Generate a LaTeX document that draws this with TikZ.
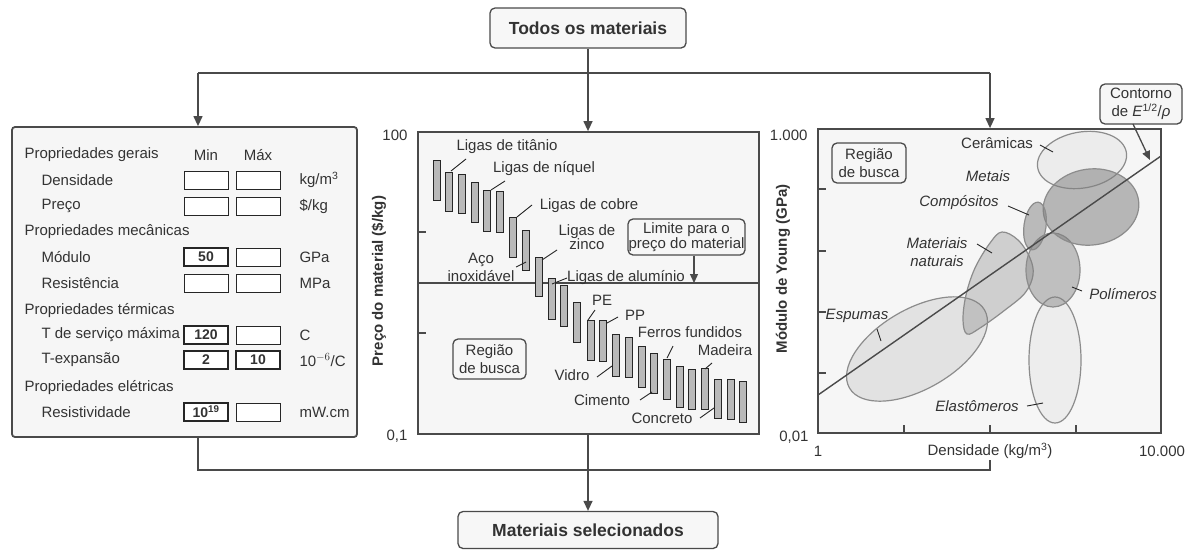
\documentclass[tikz,border=0pt]{standalone}
\usepackage{fontspec}
\setmainfont{Liberation Sans}
\usetikzlibrary{arrows.meta}
\definecolor{ink}{HTML}{333333}
\definecolor{frame}{HTML}{4A4A4A}
\definecolor{panelbg}{HTML}{F6F6F6}
\definecolor{blobline}{HTML}{8C8C8C}
\begin{document}
\begin{tikzpicture}[x=1pt,y=-1pt, font=\fontsize{15}{18}\selectfont, text=ink,
  conn/.style={draw=frame, line width=1.3pt},
  arr/.style={conn, -{Triangle[length=10pt,width=9pt]}},
  panel/.style={draw=frame, line width=1.8pt, fill=panelbg, rounded corners=3pt, inner sep=0pt},
  plotframe/.style={draw=frame, line width=1.8pt, fill=panelbg, inner sep=0pt},
  titlebox/.style={draw=frame, line width=1.3pt, fill=gray!6, rounded corners=5pt, inner sep=0pt, font=\fontsize{17.5}{20}\selectfont\bfseries},
  tagbox/.style={draw=frame, line width=1.3pt, fill=panelbg, rounded corners=5pt, align=center, inner sep=3pt},
  valbox/.style={draw=black!85, line width=1pt, minimum width=44pt, minimum height=18pt, inner sep=0pt, fill=white},
  valboxb/.style={valbox, line width=1.8pt, font=\fontsize{14}{16}\selectfont\bfseries},
  bar/.style={draw=black!85, line width=0.8pt, fill=gray!55},
  lead/.style={draw=black!85, line width=0.9pt},
  blob/.style={draw=blobline, line width=1.2pt, fill=gray},
  axlab/.style={font=\fontsize{15}{18}\selectfont\bfseries, rotate=90},
  tick/.style={draw=frame, line width=1.3pt},
  it/.style={font=\fontsize{15}{18}\selectfont\itshape}
]
\useasboundingbox (0,0) rectangle (1194,550);

% ---------- top and bottom nodes ----------
\node[titlebox, minimum width=196pt, minimum height=40pt] (T) at (588,28) {Todos os materiais};
\node[titlebox, minimum width=260pt, minimum height=37pt] (B) at (588,530) {Materiais selecionados};

% ---------- panels ----------
\node[panel, minimum width=345pt, minimum height=310pt] (LP) at (184.5,282) {};
\node[plotframe, minimum width=341pt, minimum height=302pt] (MP) at (588.5,283) {};
\node[plotframe, minimum width=343pt, minimum height=304pt] (RP) at (989.5,281) {};

% ---------- connectors ----------
\coordinate (jl) at (198,73);
\coordinate (jr) at (990,73);
\draw[arr] (T.south) -- (T.south |- MP.north);
\draw[conn] (jl) -- (jr);
\draw[arr] (jl) -- (jl |- LP.north);
\draw[arr] (jr) -- (jr |- RP.north);
\coordinate (bl) at (198,470);
\coordinate (br) at (990,470);
\coordinate (rs) at (990,460);
\draw[conn] (bl |- LP.south) -- (bl) -- (br) -- (rs);
\draw[arr] (MP.south -| T.south) -- (B.north -| T.south);

% ---------- left panel ----------
\node[anchor=west] (g1) at (21,155) {Propriedades gerais};
\node (mn) at (206,155) {Min};
\node (mx) at (258,155) {Máx};
\node[anchor=west] (r1) at (38,180) {Densidade};
\node[valbox] (r1a) at (206,180) {};
\node[valbox] (r1b) at (258,180) {};
\node[anchor=west] (r1u) at (296,180) {kg/m\textsuperscript{3}};
\node[anchor=west] (r2) at (38,206) {Preço};
\node[valbox] (r2a) at (206,206) {};
\node[valbox] (r2b) at (258,206) {};
\node[anchor=west] (r2u) at (296,206) {\$/kg};
\node[anchor=west] (g2) at (21,232) {Propriedades mecânicas};
\node[anchor=west] (r3) at (38,257) {Módulo};
\node[valboxb] (r3a) at (206,257) {50};
\node[valbox] (r3b) at (258,257) {};
\node[anchor=west] (r3u) at (296,257) {GPa};
\node[anchor=west] (r4) at (38,283) {Resistência};
\node[valbox] (r4a) at (206,283) {};
\node[valbox] (r4b) at (258,283) {};
\node[anchor=west] (r4u) at (296,283) {MPa};
\node[anchor=west] (g3) at (21,311) {Propriedades térmicas};
\node[anchor=west] (r5) at (38,335) {T de serviço máxima};
\node[valboxb] (r5a) at (206,335) {120};
\node[valbox] (r5b) at (258,335) {};
\node[anchor=west] (r5u) at (296,335) {C};
\node[anchor=west] (r6) at (38,360) {T-expansão};
\node[valboxb] (r6a) at (206,360) {2};
\node[valboxb] (r6b) at (258,360) {10};
\node[anchor=west] (r6u) at (296,360) {10$^{-6}$/C};
\node[anchor=west] (g4) at (21,388) {Propriedades elétricas};
\node[anchor=west] (r7) at (38,412) {Resistividade};
\node[valboxb] (r7a) at (206,412) {10\textsuperscript{19}};
\node[valbox] (r7b) at (258,412) {};
\node[anchor=west] (r7u) at (296,412) {mW.cm};

% ---------- middle chart ----------
\draw[draw=frame, line width=1.3pt] (MP.west |- 0,283) -- (MP.east |- 0,283);
\draw[tick] (418,232) -- (426,232);
\draw[tick] (418,333) -- (426,333);
\foreach \x/\a/\b in {433/160/200,445/172/211,458/174/213,471/182/222,483/190/231,496/191/232,
  509/217/257,522/230/270,535/257/296,548/278/319,560/285/326,573/302/342,587/320/360,
  599/320/361,612/334/376,625/337/377,638/346/387,650/353/393,663/359/399,676/366/407,
  688/369/409,701/368/409,714/379/418,727/379/419,739/381/422}
  \draw[bar] (\x,\a) rectangle ++(7,\b-\a);
\node[anchor=east] (y100) at (411,135) {100};
\node[anchor=east] (y01) at (411,436) {0,1};
\node[axlab] (ylab1) at (379,281) {Preço do material (\$/kg)};

\node (lti) at (507,147) {Ligas de titânio};
\draw[lead] (451,171) -- (466,159);
\node (lni) at (544,169) {Ligas de níquel};
\draw[lead] (491,190) -- (505,181);
\node (lcu) at (589,206) {Ligas de cobre};
\draw[lead] (517,217) -- (532,205);
\node[align=center, font=\fontsize{15}{14}\selectfont] (lzn) at (587,237) {Ligas de\\zinco};
\draw[lead] (542,260) -- (557,250);
\node[align=center, font=\fontsize{15}{18}\selectfont] (aco) at (481,267) {Aço\\inoxidável};
\draw[lead] (516,267) -- (526,262);
\node (lal) at (626,278) {Ligas de alumínio};
\draw[lead] (552,284) -- (567,278);
\node[tagbox, font=\fontsize{15}{15}\selectfont, minimum width=117pt, minimum height=36pt, inner sep=0pt] (lim) at (686.5,237) {Limite para o\\preço do material};
\draw[draw=frame, line width=1.3pt, -{Triangle[length=9pt,width=8pt]}] (lim.south -| 694,0) -- (694,283);
\node (pe) at (602,300) {PE};
\draw[lead] (588,320) -- (595,310);
\node (pp) at (635,315) {PP};
\draw[lead] (607,323) -- (618,317);
\node (ff) at (690,332) {Ferros fundidos};
\draw[lead] (667,358) -- (673,346);
\node (mad) at (725,350) {Madeira};
\draw[lead] (705,369) -- (712,363);
\node (vid) at (572,375) {Vidro};
\draw[lead] (597,377) -- (612,366);
\node (cim) at (602,400) {Cimento};
\draw[lead] (640,400) -- (652,392);
\node (con) at (662,418) {Concreto};
\draw[lead] (700,418) -- (714,408);
\node[tagbox, minimum width=73pt, minimum height=40pt, inner sep=0pt] (rb1) at (489.5,359) {Região\\de busca};

% ---------- right chart ----------
\draw[tick] (818,189) -- (826,189);
\draw[tick] (818,251) -- (826,251);
\draw[tick] (818,312) -- (826,312);
\draw[tick] (818,373) -- (826,373);
\draw[tick] (904,433) -- (904,425);
\draw[tick] (990,433) -- (990,425);
\draw[tick] (1076,433) -- (1076,425);
\node[anchor=east] (y1000) at (811,135) {1.000};
\node[anchor=east] (y001) at (812,437) {0,01};
\node (x1) at (818,451) {1};
\node (x10000) at (1162,451) {10.000};
\node (xlab) at (990,451) {Densidade (kg/m\textsuperscript{3})};
\node[axlab] (ylab2) at (783,269) {Módulo de Young (GPa)};

\draw[blob, fill opacity=0.17, rotate around={30:(917,349)}] (917,349) ellipse [x radius=78pt, y radius=40pt];
\draw[blob, fill opacity=0.07] (1055,360) ellipse [x radius=26pt, y radius=63pt];
\draw[blob, fill opacity=0.33] plot[smooth cycle, tension=0.6] coordinates {(1002,232) (1018,240) (1030,258) (1033,275) (1025,293) (1005,310) (980,328) (967,334) (963,320) (966,295) (975,268) (990,243)};
\draw[blob, fill opacity=0.46] (1053,270) ellipse [x radius=27pt, y radius=37pt];
\draw[blob, fill opacity=0.08, rotate around={10:(1082,160)}] (1082,160) ellipse [x radius=45pt, y radius=28pt];
\draw[blob, fill opacity=0.54, rotate around={8:(1091,207)}] (1091,207) ellipse [x radius=48pt, y radius=38pt];
\draw[blob, fill opacity=0.5, rotate around={-8:(1035,226)}] (1035,226) ellipse [x radius=11pt, y radius=24pt];

\coordinate (c1) at (818,395);
\coordinate (c2) at (1161,156);
\draw[draw=frame, line width=1.4pt] (c1) -- (c2);

\node (cer) at (997,143) {Cerâmicas};
\draw[lead] (1040,145) -- (1053,152);
\node[it] (met) at (988,176) {Metais};
\node[it] (cmp) at (959,203) {Compósitos};
\draw[lead] (1008,206) -- (1029,215);
\node[it, align=center] (nat) at (937,252) {Materiais\\naturais};
\draw[lead] (977,244) -- (992,253);
\node[it] (pol) at (1123,294) {Polímeros};
\draw[lead] (1072,287) -- (1082,291);
\node[it] (esp) at (857,316) {Espumas};
\draw[lead] (877,329) -- (881,341);
\node[it] (ela) at (977,406) {Elastômeros};
\draw[lead] (1027,406) -- (1043,403);
\node[tagbox, minimum width=74pt, minimum height=40pt, inner sep=0pt] (rb2) at (869,163) {Região\\de busca};
\node[tagbox, minimum width=82pt, minimum height=40pt, inner sep=0pt] (cont) at (1141,104) {Contorno\\de \textit{E}\textsuperscript{1/2}/\textit{ρ}};
\draw[draw=frame, line width=1.3pt, -{Triangle[length=9pt,width=8pt]}] (1133,124) -- (1150,160);
\end{tikzpicture}
\end{document}
